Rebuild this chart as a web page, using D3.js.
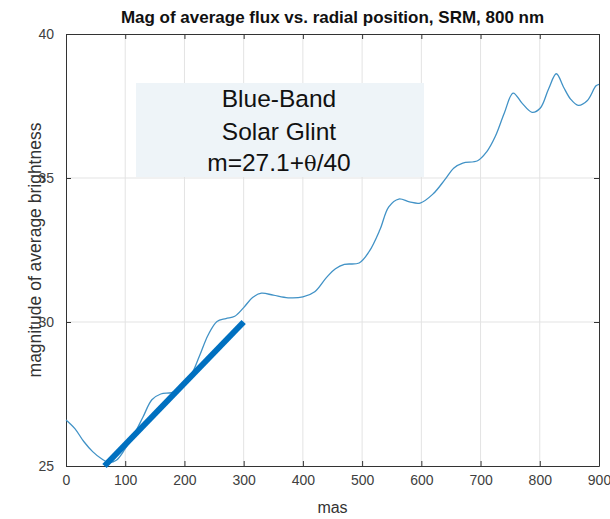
<!DOCTYPE html>
<html>
<head>
<meta charset="utf-8">
<script src="https://cdn.jsdelivr.net/npm/d3@7"></script>
<style>
  body { margin: 0; background: #fff; }
  text { font-family: "Liberation Sans", Arial, sans-serif; }
</style>
</head>
<body>
<div id="chart"></div>
<script>
// curve: radial position (mas) and magnitude
const masValues = [0, 15, 30, 45, 60, 72, 85, 100, 115, 130, 145, 160, 178, 195, 210, 225, 240, 255, 270, 285,
  300, 315, 330, 350, 375, 400, 420, 440, 455, 470, 495, 512, 530, 545, 562, 580, 598, 620, 640, 655,
  670, 695, 710, 725, 740, 755, 770, 787, 801, 815, 828, 840, 852, 865, 880, 895, 900];
const magValues = [26.6, 26.3, 25.85, 25.5, 25.25, 25.13, 25.2, 25.6, 26.1, 26.7, 27.3, 27.5, 27.55, 27.7, 28.1, 28.8, 29.55, 30.02, 30.12, 30.2,
  30.5, 30.85, 31.0, 30.93, 30.84, 30.87, 31.05, 31.55, 31.85, 32.0, 32.05, 32.45, 33.2, 34.0, 34.27, 34.17, 34.13, 34.45, 34.95, 35.35,
  35.52, 35.6, 35.9, 36.45, 37.25, 37.95, 37.6, 37.28, 37.43, 38.1, 38.62, 38.16, 37.74, 37.52, 37.68, 38.2, 38.25];

// the overlaid fit line (start and end)
const fitMas = [65, 300];
const fitMag = [25, 30];

const xTicks = [0, 100, 200, 300, 400, 500, 600, 700, 800, 900];
const yTicks = [25, 30, 35, 40];
const noteLines = ["Blue-Band", "Solar Glint"];

const width = 610, height = 519;
const margin = {top: 34, right: 11, bottom: 53, left: 66};
const w = width - margin.left - margin.right,
      h = height - margin.top - margin.bottom;

const svg = d3.select("#chart").append("svg")
    .attr("width", width)
    .attr("height", height);

const g = svg.append("g")
    .attr("transform", `translate(${margin.left},${margin.top})`);

const x = d3.scaleLinear().domain([0, 900]).range([0, w]);
const y = d3.scaleLinear().domain([25, 40]).range([h, 0]);

// grid
g.append("g")
    .selectAll("line")
    .data(xTicks.slice(1, -1))
    .join("line")
    .attr("x1", d => x(d)).attr("x2", d => x(d))
    .attr("y1", 0).attr("y2", h)
    .attr("stroke", "#e3e3e3");
g.append("g")
    .selectAll("line")
    .data(yTicks.slice(1, -1))
    .join("line")
    .attr("y1", d => y(d)).attr("y2", d => y(d))
    .attr("x1", 0).attr("x2", w)
    .attr("stroke", "#e3e3e3");

// axes (ticks inward, box)
const xAxis = g.append("g")
    .attr("transform", `translate(0,${h})`)
    .call(d3.axisBottom(x).tickValues(xTicks).tickSize(-5).tickPadding(11).tickSizeOuter(0));
const yAxis = g.append("g")
    .call(d3.axisLeft(y).tickValues(yTicks).tickSize(-5).tickPadding(12).tickSizeOuter(0));
g.append("g")
    .call(d3.axisTop(x).tickValues(xTicks).tickSize(-5).tickFormat("").tickSizeOuter(0));
g.append("g")
    .attr("transform", `translate(${w},0)`)
    .call(d3.axisRight(y).tickValues(yTicks).tickSize(-5).tickFormat("").tickSizeOuter(0));

svg.selectAll(".domain").attr("stroke", "#333");
svg.selectAll(".tick line").attr("stroke", "#333");
svg.selectAll(".tick text")
    .attr("fill", "#404040")
    .style("font-size", "14px");
xAxis.selectAll(".tick text").attr("dy", "0.55em");

// data curve
g.append("path")
    .datum(masValues.map((m, i) => [m, magValues[i]]))
    .attr("fill", "none")
    .attr("stroke", "#4192c6")
    .attr("stroke-width", 1.3)
    .attr("d", d3.line()
        .curve(d3.curveCatmullRom)
        .x(d => x(d[0]))
        .y(d => y(d[1])));

// fit line
g.append("path")
    .datum(fitMas.map((m, i) => [m, fitMag[i]]))
    .attr("fill", "none")
    .attr("stroke", "#0070c0")
    .attr("stroke-width", 6)
    .attr("d", d3.line().x(d => x(d[0])).y(d => y(d[1])));

// annotation box
g.append("rect")
    .attr("x", 70).attr("y", 49)
    .attr("width", 288).attr("height", 94)
    .attr("fill", "#eef4f8");

const note = g.append("text")
    .attr("text-anchor", "middle")
    .attr("fill", "#111")
    .style("font-size", "24.5px");
noteLines.forEach((t, i) => {
    note.append("tspan")
        .attr("x", 213)
        .attr("y", 73 + i * 33)
        .text(t);
});
const last = note.append("tspan").attr("x", 213).attr("y", 137);
last.append("tspan").text("m=27.1+");
last.append("tspan").style("font-family", "'DejaVu Serif', serif").style("font-size", "21px").text("θ");
last.append("tspan").text("/40");

// title and labels
svg.append("text")
    .attr("x", margin.left + w / 2)
    .attr("y", 23)
    .attr("text-anchor", "middle")
    .style("font-size", "17px")
    .style("font-weight", "bold")
    .attr("fill", "#111")
    .text("Mag of average flux vs. radial position, SRM, 800 nm");

svg.append("text")
    .attr("x", margin.left + w / 2)
    .attr("y", 513)
    .attr("text-anchor", "middle")
    .style("font-size", "16px")
    .attr("fill", "#333")
    .text("mas");

svg.append("text")
    .attr("transform", `translate(41,${margin.top + h / 2}) rotate(-90)`)
    .attr("text-anchor", "middle")
    .style("font-size", "17.5px")
    .attr("fill", "#333")
    .text("magnitude of average brightness");
</script>
</body>
</html>
